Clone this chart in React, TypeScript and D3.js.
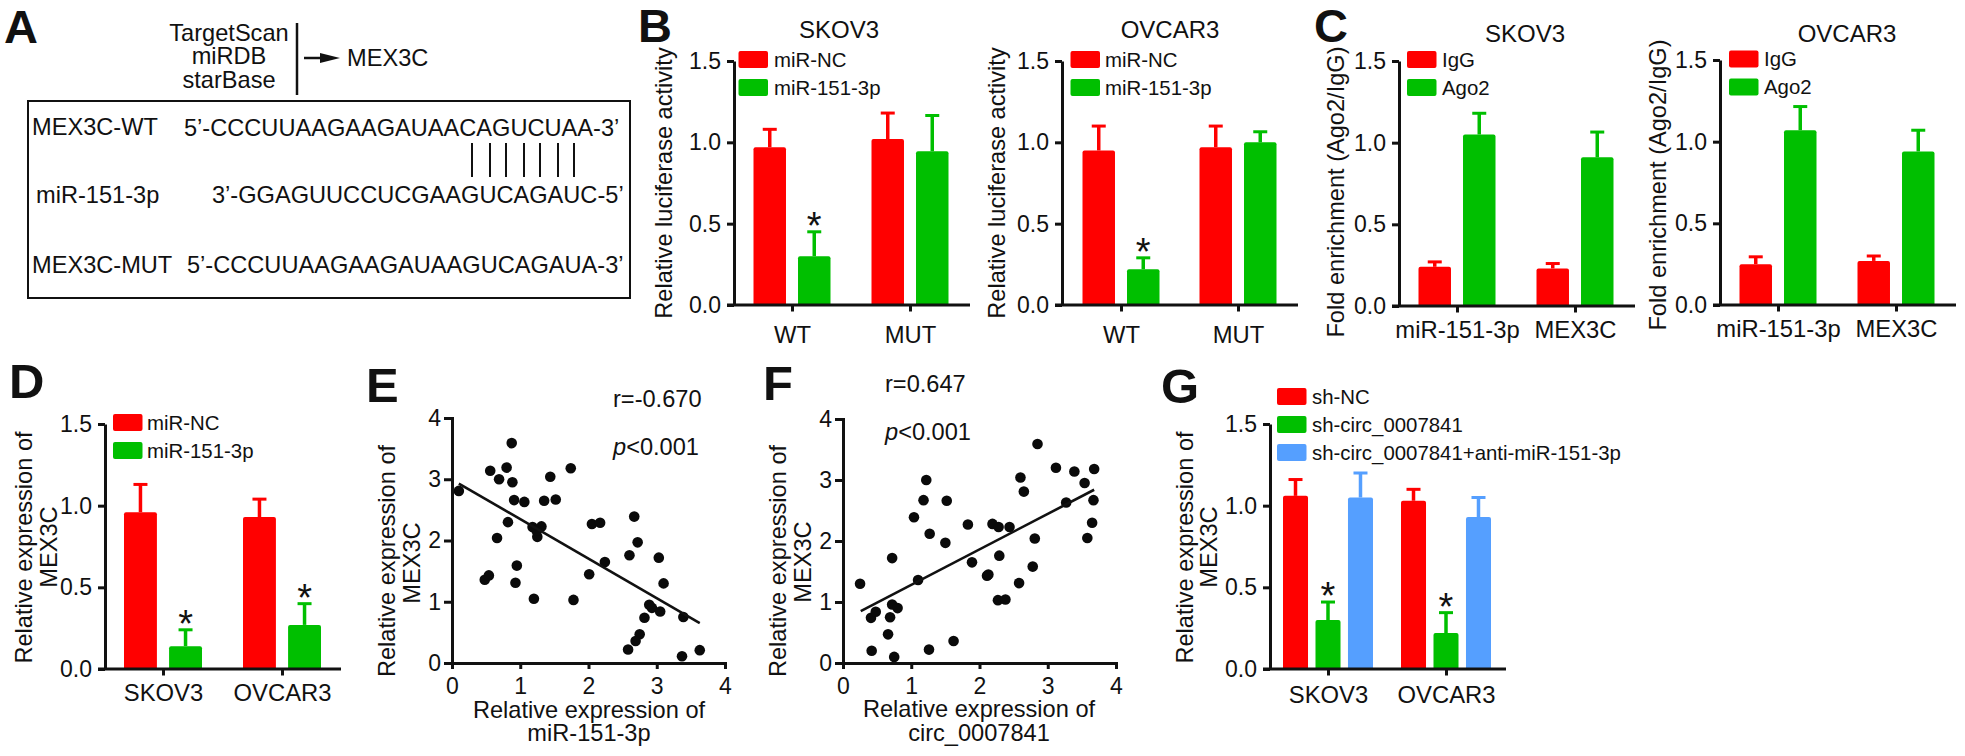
import { useEffect, useRef } from 'react';
import * as d3 from 'd3';

const FONT = '"Liberation Sans", Arial, sans-serif';
const RED = '#ff0000';
const GREEN = '#00bf00';
const BLUE = '#559fff';

const miRSeries = ['miR-NC', 'miR-151-3p'];
const ripSeries = ['IgG', 'Ago2'];
const shSeries = ['sh-NC', 'sh-circ_0007841', 'sh-circ_0007841+anti-miR-151-3p'];
const wtMut = ['WT', 'MUT'];
const ripTargets = ['miR-151-3p', 'MEX3C'];
const cellLines = ['SKOV3', 'OVCAR3'];

// panel B, one row per series: [WT, MUT]
const bSkovMeans = [[0.97, 1.02], [0.3, 0.945]];
const bSkovTops = [[1.08, 1.18], [0.45, 1.165]];
const bOvcarMeans = [[0.95, 0.97], [0.22, 1.0]];
const bOvcarTops = [[1.1, 1.1], [0.29, 1.065]];

// panel C
const cSkovMeans = [[0.24, 0.23], [1.05, 0.91]];
const cSkovTops = [[0.27, 0.26], [1.18, 1.065]];
const cOvcarMeans = [[0.25, 0.27], [1.07, 0.94]];
const cOvcarTops = [[0.295, 0.3], [1.215, 1.07]];

// panel D
const dMeans = [[0.96, 0.93], [0.14, 0.27]];
const dTops = [[1.13, 1.04], [0.24, 0.4]];

// panel G
const gMeans = [[1.06, 1.03], [0.3, 0.22], [1.05, 0.93]];
const gTops = [[1.16, 1.1], [0.41, 0.345], [1.2, 1.05]];

// scatter panels, [x, y]
const ePoints = [
  [0.1, 2.81], [0.875, 3.59], [0.56, 3.14], [0.8, 3.19], [0.69, 3.0], [0.885, 2.95], [0.91, 2.66],
  [1.06, 2.63], [1.35, 2.65], [1.52, 2.67], [1.44, 3.04], [1.74, 3.18], [0.82, 2.3], [0.66, 2.04],
  [1.18, 2.22], [1.31, 2.23], [1.25, 2.06], [1.24, 2.16], [0.48, 1.36], [0.54, 1.43], [0.95, 1.59],
  [0.93, 1.31], [1.2, 1.05], [1.78, 1.03], [2.01, 1.45], [2.24, 1.65], [2.05, 2.27], [2.17, 2.29],
  [2.67, 2.39], [2.72, 1.97], [2.6, 1.76], [3.03, 1.72], [3.1, 1.3], [2.89, 0.95], [2.93, 0.9],
  [3.05, 0.84], [2.82, 0.74], [2.75, 0.47], [2.69, 0.36], [2.58, 0.22], [3.39, 0.75], [3.37, 0.11],
  [3.63, 0.21],
];
const eFit = [[0.1, 2.93], [3.63, 0.65]];

const fPoints = [
  [0.25, 1.3], [0.41, 0.74], [0.48, 0.84], [0.42, 0.2], [0.66, 0.47], [0.69, 0.75], [0.72, 0.96],
  [0.72, 1.72], [0.8, 0.9], [0.75, 0.1], [1.1, 1.36], [1.04, 2.39], [1.18, 2.67], [1.22, 3.0],
  [1.27, 2.12], [1.26, 0.22], [1.52, 2.66], [1.5, 1.97], [1.62, 0.36], [1.83, 2.27], [1.89, 1.65],
  [2.11, 1.43], [2.13, 1.45], [2.19, 2.28], [2.28, 2.23], [2.44, 2.23], [2.29, 1.76], [2.27, 1.03],
  [2.38, 1.04], [2.58, 1.31], [2.6, 3.04], [2.65, 2.81], [2.81, 2.04], [2.78, 1.58], [2.85, 3.59],
  [3.12, 3.2], [3.27, 2.63], [3.39, 3.14], [3.54, 2.95], [3.68, 3.18], [3.67, 2.67], [3.65, 2.3],
  [3.58, 2.05],
];
const fFit = [[0.26, 0.85], [3.68, 2.84]];

const barTicks = [0, 0.5, 1, 1.5];
const scatterTicks = [0, 1, 2, 3, 4];

type Sel = d3.Selection<SVGSVGElement, unknown, null, undefined>;

function label(svg: Sel, str: string, x: number, y: number, size = 23.6, anchor = 'start', weight = 'normal') {
  return svg
    .append('text')
    .attr('x', x)
    .attr('y', y)
    .attr('font-size', size)
    .attr('font-weight', weight)
    .attr('text-anchor', anchor)
    .attr('fill', '#111')
    .text(str);
}

function vLabel(svg: Sel, str: string, x: number, cy: number, size = 23.6) {
  svg
    .append('text')
    .attr('transform', `translate(${x},${cy}) rotate(-90)`)
    .attr('font-size', size)
    .attr('text-anchor', 'middle')
    .attr('fill', '#111')
    .text(str);
}

function styleAxis(g: d3.Selection<SVGGElement, unknown, null, undefined>, size = 23) {
  g.selectAll('path,line').attr('stroke', '#111').attr('stroke-width', 3);
  g.selectAll('text').attr('font-size', size).attr('font-family', FONT).attr('fill', '#111');
}

function barPanel(
  svg: Sel,
  p: {
    axisX: number;
    y0: number;
    y1: number;
    centers: [number, number];
    cats: string[];
    series: string[];
    colors: string[];
    means: number[][];
    tops: number[][];
    barSpan: number;
    gap: number;
    labelPad: number;
    stars?: [number, number][];
  }
) {
  const y = d3.scaleLinear().domain([0, 1.5]).range([p.y0, p.y1]);
  const x = d3.scalePoint<string>().domain(p.cats).range(p.centers);
  const inner = d3
    .scaleBand<string>()
    .domain(p.series)
    .range([-p.barSpan / 2, p.barSpan / 2])
    .paddingInner(p.gap);

  p.series.forEach((s, si) => {
    p.cats.forEach((c, ci) => {
      const cx = x(c)! + inner(s)! + inner.bandwidth() / 2;
      const top = y(p.tops[si][ci]);
      svg
        .append('line')
        .attr('x1', cx)
        .attr('x2', cx)
        .attr('y1', y(p.means[si][ci]))
        .attr('y2', top)
        .attr('stroke', p.colors[si])
        .attr('stroke-width', 3.5);
      svg
        .append('line')
        .attr('x1', cx - 7)
        .attr('x2', cx + 7)
        .attr('y1', top)
        .attr('y2', top)
        .attr('stroke', p.colors[si])
        .attr('stroke-width', 3);
      svg
        .append('path')
        .attr('fill', p.colors[si])
        .attr(
          'd',
          `M${cx - inner.bandwidth() / 2},${p.y0}V${y(p.means[si][ci]) + 2}q0,-2 2,-2H${
            cx + inner.bandwidth() / 2 - 2
          }q2,0 2,2V${p.y0}Z`
        );
    });
  });

  (p.stars || []).forEach(([si, ci]) => {
    const cx = x(p.cats[ci])! + inner(p.series[si])! + inner.bandwidth() / 2;
    label(svg, '*', cx, y(p.tops[si][ci]) + 7, 38, 'middle');
  });

  // baseline runs a little past the ticks on both sides
  svg
    .append('line')
    .attr('x1', p.axisX - 7)
    .attr('x2', p.axisX + 236)
    .attr('y1', p.y0)
    .attr('y2', p.y0)
    .attr('stroke', '#111')
    .attr('stroke-width', 3);

  const xAxis = svg
    .append('g')
    .attr('transform', `translate(0,${p.y0})`)
    .call(d3.axisBottom(x).tickSize(6.5).tickSizeOuter(0).tickPadding(p.labelPad));
  xAxis.select('.domain').remove();
  styleAxis(xAxis, 23.8);

  const yAxis = svg
    .append('g')
    .attr('transform', `translate(${p.axisX},0)`)
    .call(
      d3
        .axisLeft(y)
        .tickValues(barTicks)
        .tickFormat(d3.format('.1f'))
        .tickSize(7)
        .tickSizeOuter(0)
        .tickPadding(6)
    );
  styleAxis(yAxis);
}

function legend(svg: Sel, items: string[], colors: string[], x: number, textX: number, firstY: number, size = 20.4) {
  items.forEach((t, i) => {
    const top = firstY + i * 28;
    svg
      .append('rect')
      .attr('x', x)
      .attr('y', top)
      .attr('width', 29.5)
      .attr('height', 17)
      .attr('rx', 2)
      .attr('fill', colors[i]);
    label(svg, t, textX, top + 15.5, size);
  });
}

function scatterPanel(
  svg: Sel,
  p: { x0: number; x1: number; y0: number; y1: number; points: number[][]; fit: number[][] }
) {
  const x = d3.scaleLinear().domain([0, 4]).range([p.x0, p.x1]);
  const y = d3.scaleLinear().domain([0, 4]).range([p.y0, p.y1]);

  svg
    .append('g')
    .selectAll('circle')
    .data(p.points)
    .join('circle')
    .attr('cx', (d) => x(d[0]))
    .attr('cy', (d) => y(d[1]))
    .attr('r', 5.3)
    .attr('fill', '#0a0a0a');

  svg
    .append('path')
    .datum(p.fit)
    .attr('fill', 'none')
    .attr('stroke', '#111')
    .attr('stroke-width', 2.6)
    .attr(
      'd',
      d3
        .line<number[]>()
        .x((d) => x(d[0]))
        .y((d) => y(d[1]))
    );

  const xAxis = svg
    .append('g')
    .attr('transform', `translate(0,${p.y0})`)
    .call(d3.axisBottom(x).tickValues(scatterTicks).tickFormat(d3.format('d')).tickSize(6).tickPadding(8.4));
  styleAxis(xAxis);
  const yAxis = svg
    .append('g')
    .attr('transform', `translate(${p.x0},0)`)
    .call(d3.axisLeft(y).tickValues(scatterTicks).tickFormat(d3.format('d')).tickSize(8).tickPadding(3));
  styleAxis(yAxis);
}

export default function App() {
  const ref = useRef<SVGSVGElement>(null);

  useEffect(() => {
    const svg = d3.select(ref.current!) as unknown as Sel;
    svg.selectAll('*').remove();
    svg.attr('font-family', FONT);

    // panel letters
    label(svg, 'A', 4, 43, 47, 'start', 'bold');
    label(svg, 'B', 638, 42, 47, 'start', 'bold');
    label(svg, 'C', 1314, 42, 47, 'start', 'bold');
    label(svg, 'D', 9, 398, 49, 'start', 'bold');
    label(svg, 'E', 366, 402, 49, 'start', 'bold');
    label(svg, 'F', 763, 400, 49, 'start', 'bold');
    label(svg, 'G', 1161, 403, 49, 'start', 'bold');

    // panel A
    label(svg, 'TargetScan', 229, 41, 23.6, 'middle');
    label(svg, 'miRDB', 229, 64, 23.6, 'middle');
    label(svg, 'starBase', 229, 88, 23.6, 'middle');
    label(svg, 'MEX3C', 347, 66);
    svg
      .append('line')
      .attr('x1', 297)
      .attr('x2', 297)
      .attr('y1', 23)
      .attr('y2', 95)
      .attr('stroke', '#111')
      .attr('stroke-width', 2.5);
    svg
      .append('line')
      .attr('x1', 304)
      .attr('x2', 325)
      .attr('y1', 58)
      .attr('y2', 58)
      .attr('stroke', '#111')
      .attr('stroke-width', 2.5);
    svg.append('path').attr('d', 'M320,53L340,58L320,63Z').attr('fill', '#111');
    svg
      .append('rect')
      .attr('x', 28)
      .attr('y', 101)
      .attr('width', 602)
      .attr('height', 197)
      .attr('fill', 'none')
      .attr('stroke', '#111')
      .attr('stroke-width', 2);

    label(svg, 'MEX3C-WT', 32, 135);
    label(svg, 'miR-151-3p', 36, 203);
    label(svg, 'MEX3C-MUT', 32, 273);
    label(svg, '5’-CCCUUAAGAAGAUAACAGUCUAA-3’', 184, 136);
    label(svg, '3’-GGAGUUCCUCGAAGUCAGAUC-5’', 212, 203);
    label(svg, '5’-CCCUUAAGAAGAUAAGUCAGAUA-3’', 187, 273);
    svg
      .append('g')
      .selectAll('line')
      .data([472, 490, 506, 524, 540, 558, 574])
      .join('line')
      .attr('x1', (d) => d)
      .attr('x2', (d) => d)
      .attr('y1', 143)
      .attr('y2', 177)
      .attr('stroke', '#111')
      .attr('stroke-width', 2);

    // panel B
    const rg = [RED, GREEN];
    const b = { y0: 305, y1: 61, series: miRSeries, colors: rg, barSpan: 77, gap: 0.27, labelPad: 15, cats: wtMut };
    barPanel(svg, { ...b, axisX: 734, centers: [792, 910], means: bSkovMeans, tops: bSkovTops, stars: [[1, 0]] });
    barPanel(svg, { ...b, axisX: 1062, centers: [1121, 1238], means: bOvcarMeans, tops: bOvcarTops, stars: [[1, 0]] });
    label(svg, 'SKOV3', 839, 38, 24, 'middle');
    label(svg, 'OVCAR3', 1170, 38, 24, 'middle');
    legend(svg, miRSeries, rg, 738.5, 774, 51);
    legend(svg, miRSeries, rg, 1070.5, 1105, 51);
    vLabel(svg, 'Relative luciferase activity', 672, 183);
    vLabel(svg, 'Relative luciferase activity', 1005, 183);

    // panel C
    const c = { series: ripSeries, colors: rg, barSpan: 77, gap: 0.27, labelPad: 9, cats: ripTargets };
    barPanel(svg, { ...c, axisX: 1399, y0: 306, y1: 61, centers: [1457, 1575], means: cSkovMeans, tops: cSkovTops });
    barPanel(svg, { ...c, axisX: 1720, y0: 305, y1: 60, centers: [1778, 1896], means: cOvcarMeans, tops: cOvcarTops });
    label(svg, 'SKOV3', 1525, 42, 24, 'middle');
    label(svg, 'OVCAR3', 1847, 42, 24, 'middle');
    legend(svg, ripSeries, rg, 1407, 1442, 51);
    legend(svg, ripSeries, rg, 1729, 1764, 50.5);
    vLabel(svg, 'Fold enrichment (Ago2/IgG)', 1344, 192);
    vLabel(svg, 'Fold enrichment (Ago2/IgG)', 1666, 185);

    // panel D
    barPanel(svg, {
      axisX: 105,
      y0: 669,
      y1: 424,
      centers: [163, 282],
      cats: cellLines,
      series: miRSeries,
      colors: rg,
      means: dMeans,
      tops: dTops,
      barSpan: 78,
      gap: 0.27,
      labelPad: 9,
      stars: [[1, 0], [1, 1]],
    });
    legend(svg, miRSeries, rg, 113, 147, 414);
    vLabel(svg, 'Relative expression of', 32, 547.5);
    vLabel(svg, 'MEX3C', 57, 547);

    // panel E
    scatterPanel(svg, { x0: 452, x1: 725, y0: 663, y1: 418, points: ePoints, fit: eFit });
    vLabel(svg, 'Relative expression of', 395, 561);
    vLabel(svg, 'MEX3C', 420, 563);
    label(svg, 'Relative expression of', 589, 718, 23.6, 'middle');
    label(svg, 'miR-151-3p', 589, 741, 23.6, 'middle');
    label(svg, 'r=-0.670', 613, 407);
    label(svg, '', 613, 455).call((t) => {
      t.append('tspan').attr('font-style', 'italic').text('p');
      t.append('tspan').text('<0.001');
    });

    // panel F
    scatterPanel(svg, { x0: 843, x1: 1116, y0: 663, y1: 419, points: fPoints, fit: fFit });
    vLabel(svg, 'Relative expression of', 786, 561);
    vLabel(svg, 'MEX3C', 811, 562);
    label(svg, 'Relative expression of', 979, 717, 23.6, 'middle');
    label(svg, 'circ_0007841', 979, 741, 23.6, 'middle');
    label(svg, 'r=0.647', 885, 392);
    label(svg, '', 885, 440).call((t) => {
      t.append('tspan').attr('font-style', 'italic').text('p');
      t.append('tspan').text('<0.001');
    });

    // panel G
    const rgb = [RED, GREEN, BLUE];
    barPanel(svg, {
      axisX: 1270,
      y0: 669,
      y1: 424,
      centers: [1328, 1446],
      cats: cellLines,
      series: shSeries,
      colors: rgb,
      means: gMeans,
      tops: gTops,
      barSpan: 90,
      gap: 0.23,
      labelPad: 11,
      stars: [[1, 0], [1, 1]],
    });
    legend(svg, shSeries, rgb, 1277, 1312, 388);
    vLabel(svg, 'Relative expression of', 1193, 547.5);
    vLabel(svg, 'MEX3C', 1217, 547);
  }, []);

  return (
    <svg
      ref={ref}
      width={1965}
      height={756}
      style={{ position: 'absolute', left: 0, top: 0, display: 'block', background: '#fff' }}
    ></svg>
  );
}
